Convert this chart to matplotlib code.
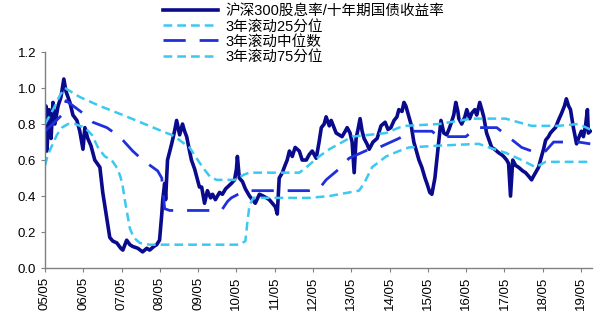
import matplotlib
matplotlib.use("Agg")
import matplotlib.pyplot as plt

plt.rcParams['font.family'] = ['Liberation Sans', 'Noto Sans CJK SC']

# 横轴: 自2005年5月起的月份数
main_t = [0, 0.3, 0.6, 1.25, 1.9, 2.5, 3.1, 4.1, 5.0, 5.9, 6.6, 7.8, 8.75, 10.0, 10.9, 11.9,
          12.5, 13.4, 14.4, 15.6, 17.2, 18.1, 19.4, 20.3, 21.25, 22.5, 23.75, 24.4, 25.6, 26.6,
          27.5, 29.1, 30.6, 31.9, 32.8, 34.1, 35.0, 35.9, 36.6, 36.9, 37.5, 37.8, 38.4, 39.7,
          40.6, 41.25, 42.2, 43.1, 43.75, 44.4, 45.3, 45.9, 46.9, 47.5, 48.4, 49.1, 50.0, 50.9,
          51.9, 52.5, 53.4, 54.7, 55.6, 56.6, 57.2, 58.4, 59.4, 60.0, 60.3, 60.9, 61.9, 62.8,
          64.1, 65.0, 65.9, 67.2, 68.4, 69.4, 70.3, 71.25, 72.2, 72.8, 73.4, 74.4, 75.0, 75.9,
          76.6, 77.5, 78.4, 79.7, 80.6, 81.9, 82.8, 83.75, 85.0, 85.9, 86.6, 87.5, 88.1, 89.1,
          89.7, 90.6, 91.25, 92.2, 93.1, 94.1, 94.7, 95.6, 96.25, 96.9, 97.5, 98.1, 98.75, 99.4,
          100.0, 100.9, 101.6, 102.8, 104.1, 105.3, 106.6, 107.5, 108.4, 109.4, 110.3, 110.9,
          111.9, 112.5, 113.1, 113.75, 114.7, 115.6, 116.25, 117.2, 118.1, 119.1, 119.7, 120.6,
          121.25, 122.2, 122.8, 123.4, 124.1, 125.0, 125.9, 126.6, 127.2, 128.1, 128.75, 129.4,
          129.7, 130.6, 131.6, 132.2, 133.1, 133.75, 134.7, 135.3, 136.25, 136.9, 137.5, 138.4,
          139.4, 140.0, 140.9, 142.2, 143.1, 143.75, 144.7, 145.3, 145.9, 146.6, 147.5, 148.4,
          149.7, 150.6, 151.6, 152.5, 153.1, 153.75, 154.7, 155.3, 156.25, 156.9, 157.8, 158.4,
          159.4, 160.0, 160.9, 161.9, 162.8, 163.4, 164.1, 164.7, 165.6, 166.6, 167.2, 168.1,
          168.75, 169.4, 170.0, 170.3, 170.9]
main_v = [0.75, 0.9, 0.65, 0.88, 0.72, 0.92, 0.8, 0.9, 0.95, 1.05, 0.98, 0.92, 0.85, 0.82, 0.76, 0.66,
          0.78, 0.72, 0.68, 0.6, 0.56, 0.42, 0.27, 0.17, 0.15, 0.14, 0.11, 0.10, 0.155, 0.13,
          0.12, 0.11, 0.09, 0.11, 0.10, 0.12, 0.13, 0.155, 0.3, 0.38, 0.47, 0.38, 0.6, 0.69,
          0.76, 0.82, 0.74, 0.8, 0.76, 0.73, 0.65, 0.6, 0.55, 0.51, 0.45, 0.45, 0.36, 0.43,
          0.39, 0.41, 0.38, 0.42, 0.41, 0.44, 0.45, 0.47, 0.49, 0.55, 0.62, 0.5, 0.48, 0.44,
          0.4, 0.38, 0.36, 0.41, 0.4, 0.39, 0.38, 0.36, 0.34, 0.3, 0.5, 0.53, 0.56, 0.6,
          0.65, 0.62, 0.67, 0.65, 0.6, 0.6, 0.63, 0.65, 0.61, 0.7, 0.78, 0.8, 0.84, 0.79,
          0.82, 0.78, 0.75, 0.74, 0.73, 0.76, 0.78, 0.75, 0.7, 0.53, 0.72, 0.77, 0.83, 0.76,
          0.72, 0.69, 0.66, 0.7, 0.72, 0.79, 0.81, 0.77, 0.78, 0.82, 0.84, 0.88,
          0.87, 0.92, 0.9, 0.86, 0.8, 0.7, 0.66, 0.6, 0.56, 0.5, 0.47, 0.42,
          0.41, 0.5, 0.6, 0.7, 0.82, 0.75, 0.74, 0.77, 0.8, 0.85, 0.92, 0.87,
          0.83, 0.8, 0.84, 0.88, 0.83, 0.86, 0.88, 0.85, 0.92, 0.88, 0.84, 0.75,
          0.7, 0.67, 0.66, 0.64, 0.63, 0.62, 0.6, 0.58, 0.4, 0.6, 0.57, 0.56,
          0.54, 0.53, 0.51, 0.49, 0.51, 0.53, 0.56, 0.6, 0.66, 0.71, 0.73, 0.75,
          0.77, 0.78, 0.82, 0.86, 0.9, 0.94, 0.9, 0.88, 0.78, 0.69, 0.72, 0.76,
          0.73, 0.79, 0.88, 0.75, 0.76]

p25_t = [0, 0.9, 2.2, 3.75, 5.3, 7.2, 9.4, 12.5, 14.7, 16.6, 18.75, 20.9, 22.8, 23.75, 24.4,
         25.0, 25.6, 26.6, 27.8, 29.7, 32.8, 48.4, 60.9, 62.8, 63.4, 64.1, 65.3, 70.3, 82.8,
         89.1, 95.3, 98.4, 100.0, 102.5, 106.9, 110.9, 114.1, 123.4, 135.9, 139.1, 144.4,
         149.4, 153.75, 156.9, 170.9]
p25_v = [0.57, 0.63, 0.68, 0.74, 0.78, 0.8, 0.8, 0.78, 0.74, 0.67, 0.62, 0.6, 0.55, 0.5, 0.45,
         0.38, 0.32, 0.22, 0.17, 0.14, 0.13, 0.13, 0.13, 0.15, 0.25, 0.35, 0.39, 0.39, 0.39,
         0.4, 0.42, 0.43, 0.47, 0.56, 0.62, 0.65, 0.67, 0.68, 0.69, 0.67, 0.64,
         0.6, 0.56, 0.59, 0.59]

med_t = [0, 5.3, 6.6, 11.9, 15.0, 19.4, 23.4, 27.5, 30.6, 35.3, 36.6, 37.5, 39.1, 55.3, 57.2,
         58.4, 61.6, 64.1, 82.8, 85.9, 88.1, 92.8, 95.3, 101.6, 104.7, 110.9, 115.0, 121.25,
         123.4, 131.9, 135.3, 141.6, 144.4, 149.4, 152.5, 156.9, 159.4, 167.2, 170.9]
med_v = [0.76, 0.85, 0.93, 0.86, 0.81, 0.78, 0.73, 0.65, 0.6, 0.54, 0.5, 0.33, 0.32, 0.32, 0.37,
         0.39, 0.42, 0.43, 0.43, 0.44, 0.49, 0.56, 0.61, 0.66, 0.67, 0.72, 0.76, 0.76,
         0.73, 0.73, 0.78, 0.78, 0.74, 0.67, 0.65, 0.65, 0.7, 0.7, 0.69]

p75_t = [0, 1.6, 3.1, 4.7, 6.25, 10.9, 17.2, 24.4, 31.25, 38.1, 39.7, 42.2, 45.3, 47.5, 49.4,
         51.6, 53.75, 59.4, 62.5, 64.1, 79.7, 81.25, 85.9, 89.1, 92.2, 96.25, 101.6, 106.9,
         110.9, 113.1, 123.4, 133.75, 144.4, 148.4, 152.5, 160.9, 167.2, 170.9]
p75_v = [0.8, 0.85, 0.9, 0.96, 1.0, 0.95, 0.9, 0.85, 0.8, 0.75, 0.74, 0.71, 0.67, 0.61, 0.56,
         0.51, 0.49, 0.49, 0.52, 0.53, 0.53, 0.55, 0.62, 0.66, 0.69, 0.73, 0.74, 0.75,
         0.78, 0.79, 0.8, 0.83, 0.83, 0.81, 0.79, 0.79, 0.8, 0.77]

tick_labels = ['05/05', '06/05', '07/05', '08/05', '09/05', '10/05', '11/05', '12/05',
               '13/05', '14/05', '15/05', '16/05', '17/05', '18/05', '19/05']

navy = '#0a0a8c'
mid_blue = '#1f2fdc'
light = '#3cc8f0'

fig = plt.figure(figsize=(6, 3.23), dpi=100)
ax = fig.add_axes([0.075, 0.17, 0.912, 0.669])

l1, = ax.plot(main_t, main_v, color=navy, lw=2.6, label='沪深300股息率/十年期国债收益率')
l2, = ax.plot(p25_t, p25_v, color=light, lw=1.8, dashes=(3.5, 2), label='3年滚动25分位')
l3, = ax.plot(med_t, med_v, color=mid_blue, lw=2.0, dashes=(8, 5), label='3年滚动中位数')
l4, = ax.plot(p75_t, p75_v, color=light, lw=1.8, dashes=(3.5, 2), label='3年滚动75分位')

ax.set_ylim(0, 1.2)
ax.set_xlim(0, 171.5)
ax.set_yticks([0.0, 0.2, 0.4, 0.6, 0.8, 1.0, 1.2])
ax.set_yticklabels(['0.0', '0.2', '0.4', '0.6', '0.8', '1.0', '1.2'], fontsize=9.5)
ax.set_xticks([12 * i for i in range(len(tick_labels))])
ax.set_xticklabels(tick_labels, rotation=90, fontsize=9.5)
ax.tick_params(direction='out', length=3, color='#808080', width=0.8)

for s in ['top', 'right']:
    ax.spines[s].set_visible(False)
for s in ['left', 'bottom']:
    ax.spines[s].set_color('#808080')
    ax.spines[s].set_linewidth(1)

fig.legend(handles=[l1, l2, l3, l4], loc='upper left', bbox_to_anchor=(0.262, 1.005),
           frameon=False, fontsize=10.5, handlelength=3.8, labelspacing=0.08,
           handletextpad=0.45, borderaxespad=0)

fig.savefig('out.png', dpi=100)
